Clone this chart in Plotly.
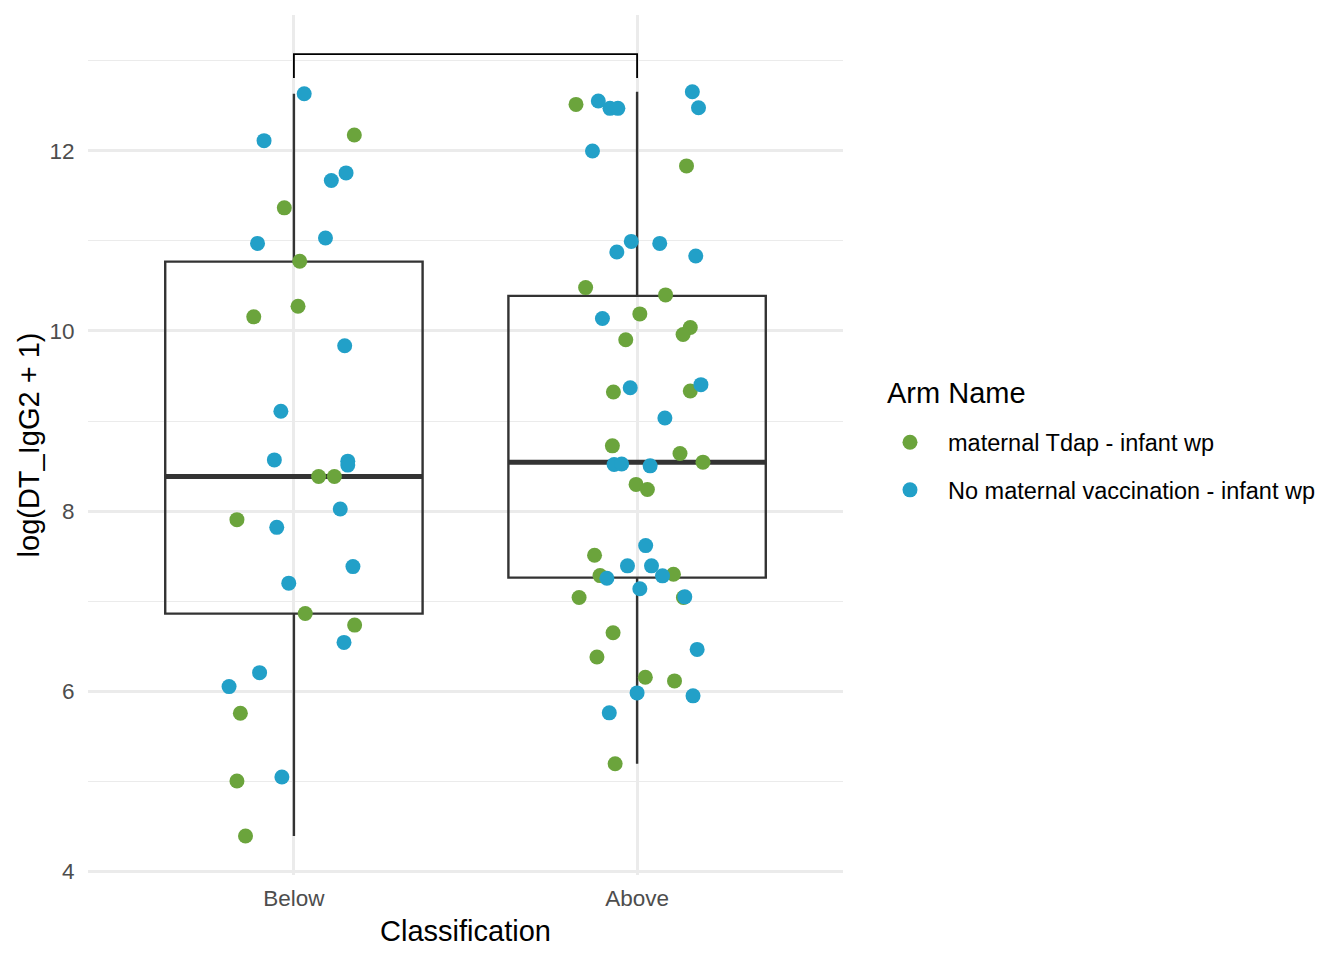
"""
DT_IgG2 by classification: boxplot with jittered points per arm
"""

import plotly.graph_objects as go

# ---------------------------------------------------------------------------
# DATA
# ---------------------------------------------------------------------------
CLASSES = ["Below", "Above"]
ARMS = ["maternal Tdap - infant wp", "No maternal vaccination - infant wp"]

# log(DT_IgG2 + 1) values and horizontal jitter per group / arm
BELOW_TDAP_Y = [12.177, 11.368, 10.774, 10.275, 10.157, 8.384, 8.384, 7.904,
                6.862, 6.733, 5.754, 5.001, 4.391]
BELOW_TDAP_JITTER = [0.176, -0.028, 0.017, 0.012, -0.117, 0.072, 0.118, -0.166,
                     0.033, 0.177, -0.156, -0.166, -0.141]

BELOW_NONE_Y = [12.635, 12.114, 11.756, 11.671, 10.973, 11.033, 9.836, 9.108,
                8.568, 8.554, 8.510, 8.022, 7.819, 7.383, 7.199, 6.541, 6.205,
                6.050, 5.045]
BELOW_NONE_JITTER = [0.030, -0.087, 0.152, 0.109, -0.106, 0.092, 0.148, -0.038,
                     -0.057, 0.157, 0.157, 0.135, -0.050, 0.172, -0.015, 0.146,
                     -0.100, -0.189, -0.035]

ABOVE_TDAP_Y = [12.517, 11.834, 10.482, 10.401, 10.190, 10.039, 9.961, 9.902,
                9.322, 9.333, 8.724, 8.639, 8.543, 8.296, 8.240, 7.509, 7.283,
                7.298, 7.040, 7.040, 6.648, 6.379, 6.153, 6.113, 5.193]
ABOVE_TDAP_JITTER = [-0.178, 0.144, -0.150, 0.083, 0.008, 0.155, 0.134, -0.033,
                     -0.069, 0.155, -0.072, 0.125, 0.192, -0.003, 0.030, -0.124,
                     -0.108, 0.106, -0.169, 0.135, -0.070, -0.117, 0.024, 0.109,
                     -0.064]

ABOVE_NONE_Y = [12.554, 12.473, 12.473, 12.657, 12.480, 12.000, 10.995, 10.877,
                10.973, 10.833, 10.139, 9.370, 9.404, 9.034, 8.517, 8.523, 8.502,
                7.616, 7.391, 7.391, 7.254, 7.280, 7.136, 7.047, 6.463, 5.980,
                5.947, 5.758]
ABOVE_NONE_JITTER = [-0.113, -0.079, -0.056, 0.161, 0.179, -0.130, -0.017, -0.059,
                     0.066, 0.171, -0.101, -0.020, 0.186, 0.081, -0.067, -0.045,
                     0.038, 0.025, -0.028, 0.042, -0.088, 0.074, 0.008, 0.139,
                     0.175, 0.000, 0.163, -0.081]

# box statistics per class (Below, Above)
BOX_LOWER = [4.391, 5.193]
BOX_Q1 = [6.86, 7.26]
BOX_MEDIAN = [8.384, 8.543]
BOX_Q3 = [10.77, 10.39]
BOX_UPPER = [12.635, 12.657]

# significance bracket between the two classes
BRACKET_TOP = 13.075
BRACKET_TIP = 12.81

# ---------------------------------------------------------------------------
# STYLE
# ---------------------------------------------------------------------------
FONT = "Liberation Sans, Arial, Helvetica, sans-serif"
ARM_COLORS = ["#6BA43C", "#22A0C8"]
BOX_COLOR = "#333333"
GRID_COLOR = "#EBEBEB"
TICK_COLOR = "#4D4D4D"

pos = {c: i + 1 for i, c in enumerate(CLASSES)}


def jittered(cls, jitter):
    return [pos[cls] + j for j in jitter]


fig = go.Figure()

# boxes (outline + whiskers)
fig.add_trace(
    go.Box(
        x=[pos[c] for c in CLASSES],
        lowerfence=BOX_LOWER,
        q1=BOX_Q1,
        median=BOX_MEDIAN,
        q3=BOX_Q3,
        upperfence=BOX_UPPER,
        width=0.75,
        whiskerwidth=0,
        fillcolor="rgba(0,0,0,0)",
        line=dict(color=BOX_COLOR, width=2.4),
        boxpoints=False,
        showlegend=False,
        hoverinfo="skip",
    )
)
# thicker median bar, ggplot style
fig.add_trace(
    go.Box(
        x=[pos[c] for c in CLASSES],
        lowerfence=BOX_MEDIAN,
        q1=BOX_MEDIAN,
        median=BOX_MEDIAN,
        q3=BOX_MEDIAN,
        upperfence=BOX_MEDIAN,
        width=0.75,
        whiskerwidth=0,
        fillcolor="rgba(0,0,0,0)",
        line=dict(color=BOX_COLOR, width=5),
        boxpoints=False,
        showlegend=False,
        hoverinfo="skip",
    )
)

# jittered points, one trace per arm
arm_points = [
    (jittered("Below", BELOW_TDAP_JITTER) + jittered("Above", ABOVE_TDAP_JITTER),
     BELOW_TDAP_Y + ABOVE_TDAP_Y),
    (jittered("Below", BELOW_NONE_JITTER) + jittered("Above", ABOVE_NONE_JITTER),
     BELOW_NONE_Y + ABOVE_NONE_Y),
]
for arm, color, (xs, ys) in zip(ARMS, ARM_COLORS, arm_points):
    fig.add_trace(
        go.Scatter(
            x=xs,
            y=ys,
            mode="markers",
            name=arm,
            legendgroup=arm,
            marker=dict(color=color, size=15, line=dict(width=0)),
        )
    )

# bracket
fig.add_trace(
    go.Scatter(
        x=[pos["Below"], pos["Below"], pos["Above"], pos["Above"]],
        y=[BRACKET_TIP, BRACKET_TOP, BRACKET_TOP, BRACKET_TIP],
        mode="lines",
        line=dict(color="black", width=1.8),
        showlegend=False,
        hoverinfo="skip",
    )
)

fig.update_layout(
    width=1344,
    height=960,
    margin=dict(l=88, r=501, t=15, b=85),
    paper_bgcolor="white",
    plot_bgcolor="white",
    font=dict(family=FONT, color="black"),
    showlegend=True,
    legend=dict(
        font=dict(size=23.5, color="black"),
        x=1.0384,
        xanchor="left",
        y=0.475,
        yanchor="middle",
        tracegroupgap=14,
        traceorder="grouped",
        itemsizing="trace",
        itemwidth=66,
        bgcolor="rgba(0,0,0,0)",
    ),
    annotations=[
        dict(
            text="Arm Name",
            xref="paper",
            yref="paper",
            x=1.056,
            y=0.5605,
            xanchor="left",
            yanchor="middle",
            showarrow=False,
            font=dict(size=29, color="black"),
        )
    ],
    xaxis=dict(
        range=[0.4, 2.6],
        tickvals=[pos[c] for c in CLASSES],
        ticktext=CLASSES,
        tickfont=dict(size=22.5, color=TICK_COLOR),
        ticks="outside",
        ticklen=3,
        tickcolor="rgba(0,0,0,0)",
        showgrid=True,
        gridcolor=GRID_COLOR,
        gridwidth=2.7,
        zeroline=False,
        showline=False,
        title=dict(text="Classification", font=dict(size=29), standoff=10),
    ),
    yaxis=dict(
        range=[3.957, 13.51],
        tickvals=[4, 6, 8, 10, 12],
        tickfont=dict(size=22.5, color=TICK_COLOR),
        ticks="outside",
        ticklen=8,
        tickcolor="rgba(0,0,0,0)",
        showgrid=True,
        gridcolor=GRID_COLOR,
        gridwidth=2.7,
        minor=dict(tickvals=[5, 7, 9, 11, 13], showgrid=True,
                   gridcolor=GRID_COLOR, gridwidth=1.4),
        zeroline=False,
        showline=False,
        title=dict(text="log(DT_IgG2 + 1)", font=dict(size=29), standoff=1),
    ),
)

fig.write_html(
    "out.html",
    config={"displayModeBar": False},
    post_script="document.body.style.margin = '0';",
)
